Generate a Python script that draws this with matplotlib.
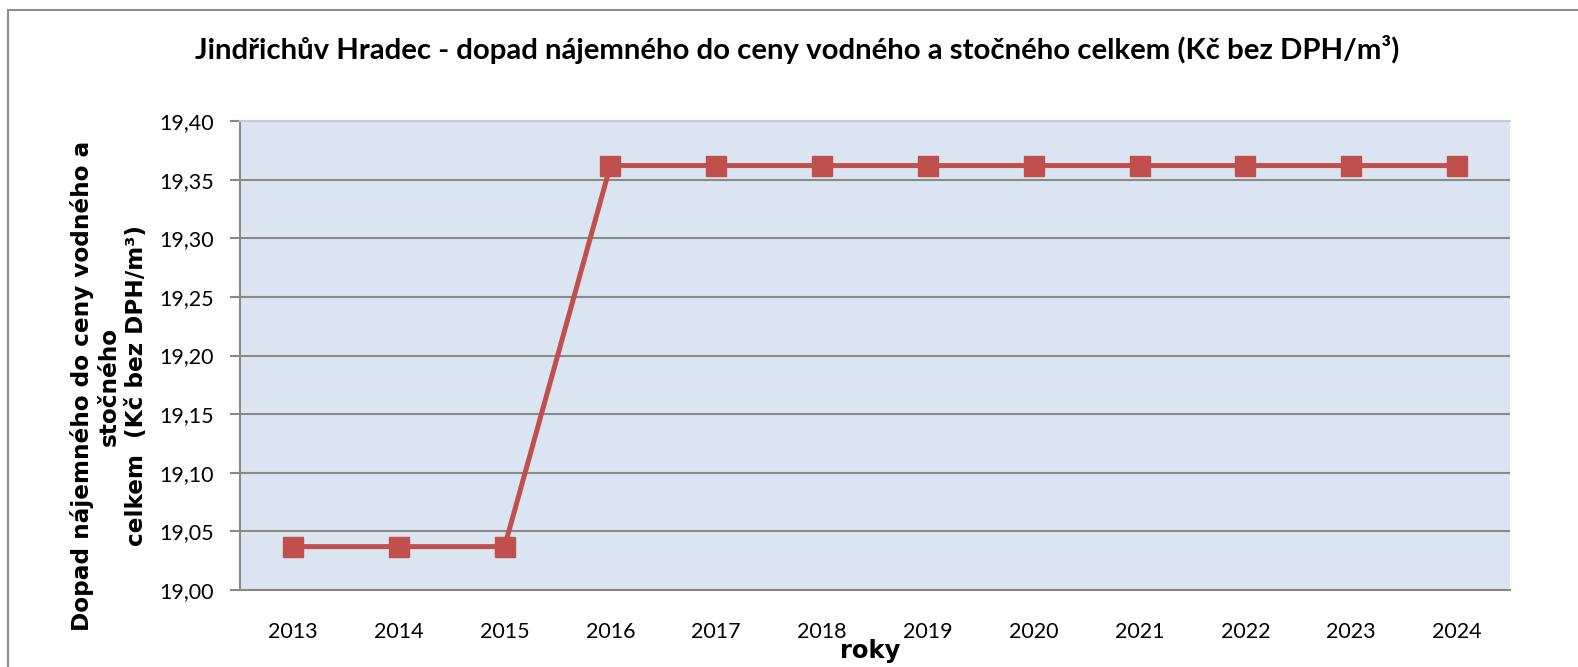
import matplotlib.pyplot as plt
from matplotlib.patches import Rectangle

years = ["2013", "2014", "2015", "2016", "2017", "2018",
         "2019", "2020", "2021", "2022", "2023", "2024"]
values = [19.037, 19.037, 19.037, 19.362, 19.362, 19.362,
          19.362, 19.362, 19.362, 19.362, 19.362, 19.362]
y_ticks = [19.00, 19.05, 19.10, 19.15, 19.20, 19.25, 19.30, 19.35, 19.40]

plt.rcParams["font.family"] = ["Lato", "DejaVu Sans"]

W, H = 1578, 667
fig = plt.figure(figsize=(W / 100, H / 100), dpi=100)

# outer chart frame
fig.patches.append(
    Rectangle((8 / W, -0.1), 1.2, (H - 10) / H + 0.1,
              transform=fig.transFigure, fill=False,
              edgecolor="#8c8c8c", linewidth=1.5)
)

ax = fig.add_axes([240 / W, 1 - 590 / H, (1510 - 240) / W, (590 - 121) / H])
ax.set_facecolor("#DBE5F1")

x = range(len(years))
ax.plot(x, values, color="#C0504D", linewidth=3.6, marker="s",
        markersize=14, markeredgecolor="#C0504D", zorder=3)

ax.set_xlim(-0.5, len(years) - 0.5)
ax.set_ylim(19.0, 19.4)
ax.set_xticks(list(x))
ax.set_xticklabels(years, fontsize=15.5)
ax.set_yticks(y_ticks)
ax.set_yticklabels([f"{v:.2f}".replace(".", ",") for v in y_ticks], fontsize=15.5)

ax.tick_params(axis="x", length=0, pad=23)
ax.tick_params(axis="y", length=7, width=1.5, color="#898989", pad=12)

ax.grid(axis="y", color="#898989", linewidth=1.5)
ax.set_axisbelow(True)

for side in ["left", "bottom"]:
    ax.spines[side].set_color("#898989")
    ax.spines[side].set_linewidth(1.5)
ax.spines["top"].set_color("#c5ccd6")
ax.spines["top"].set_linewidth(1.5)
ax.spines["right"].set_visible(False)

fig.text(797 / W, 1 - 50 / H,
         "Jindřichův Hradec - dopad nájemného do ceny vodného a stočného celkem (Kč bez DPH/m³)",
         ha="center", va="center", fontsize=21.2, fontweight="bold")

fig.text(109 / W, 1 - 386 / H,
         "Dopad nájemného do ceny vodného a\nstočného\ncelkem  (Kč bez DPH/m³)",
         ha="center", va="center", rotation=90, fontsize=16.7,
         fontweight="bold", family="DejaVu Sans",
         multialignment="center", linespacing=1.2)

fig.text(870 / W, 1 - 651 / H, "roky", ha="center", va="center",
         fontsize=17.5, fontweight="bold", family="DejaVu Sans")

fig.savefig("out.png", dpi=100)
